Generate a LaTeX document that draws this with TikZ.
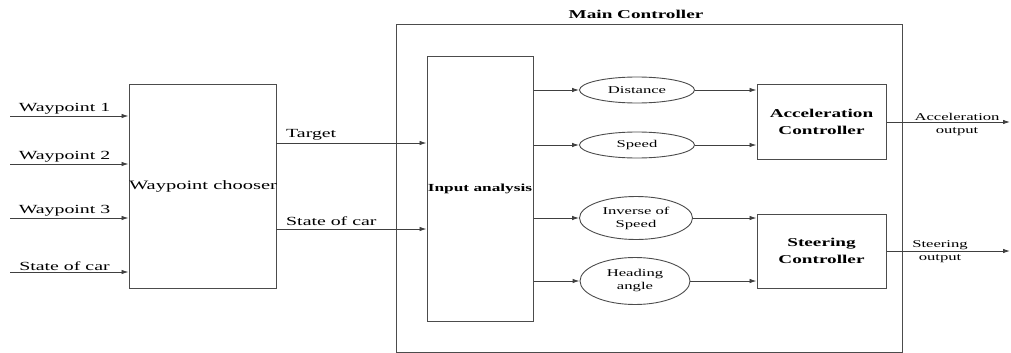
\documentclass[tikz,border=0pt]{standalone}
\usepackage{fontspec}
\setmainfont{Liberation Serif}[FakeStretch=1.6]
\usetikzlibrary{arrows.meta,shapes.geometric}
\newcommand\mainsz{\fontsize{12.4}{17}\selectfont}
\newcommand\smallsz{\fontsize{10.4}{13}\selectfont}
\begin{document}
\begin{tikzpicture}[x=1pt,y=-1pt,
  line/.style={draw=black!75,line width=0.9pt},
  arr/.style={line,-{Latex[length=7pt,width=4.5pt]}},
  box/.style={rectangle,draw=black!70,line width=1pt,inner sep=0pt,align=center},
  oval/.style={ellipse,draw=black!70,line width=0.9pt,inner sep=0pt,align=center,font=\smallsz},
  lbl/.style={font=\mainsz,inner sep=1pt},
  outlbl/.style={font=\smallsz,align=center,inner sep=0pt}]
\useasboundingbox (0,0) rectangle (1011,353);

% enclosing controller frame and its title
\node[box,minimum width=506pt,minimum height=327pt] (main) at (649,188.5) {};
\node[font=\fontsize{12}{14}\selectfont\bfseries] (title) at (636,14) {Main Controller};

% blocks
\node[box,minimum width=146pt,minimum height=204pt,font=\fontsize{12.8}{17}\selectfont] (chooser) at (203,186) {Waypoint chooser};
\node[box,minimum width=106pt,minimum height=264pt,font=\fontsize{10.8}{13}\selectfont\bfseries] (ia) at (480,189) {Input analysis};
\node[box,minimum width=129pt,minimum height=75pt,font=\fontsize{12}{17}\selectfont\bfseries] (acc) at (821.5,121.5) {Acceleration\\Controller};
\node[box,minimum width=129pt,minimum height=74pt,font=\fontsize{12}{17}\selectfont\bfseries] (steer) at (821.5,251) {Steering\\Controller};

% intermediate quantities
\node[oval,minimum width=115pt,minimum height=26pt] (dist) at (637,90) {Distance};
\node[oval,minimum width=115pt,minimum height=26pt] (speed) at (637,145) {Speed};
\node[oval,minimum width=113pt,minimum height=43pt] (inv) at (636,218) {Inverse of\\Speed};
\node[oval,minimum width=110pt,minimum height=47pt] (head) at (635,281) {Heading\\angle};

% external inputs
\coordinate (w1) at (10,116);
\coordinate (w2) at (10,164);
\coordinate (w3) at (10,218);
\coordinate (w4) at (10,272);
\draw[arr] (w1) -- node[lbl,above,pos=0.46] {Waypoint 1} (w1 -| chooser.west);
\draw[arr] (w2) -- node[lbl,above,pos=0.46] {Waypoint 2} (w2 -| chooser.west);
\draw[arr] (w3) -- node[lbl,above,pos=0.46] {Waypoint 3} (w3 -| chooser.west);
\draw[arr] (w4) -- node[lbl,above,pos=0.46] {State of car} (w4 -| chooser.west);

% chooser to input analysis
\coordinate (tg) at (276,143);
\coordinate (sc) at (276,229);
\draw[arr] (tg) -- (tg -| ia.west);
\draw[arr] (sc) -- (sc -| ia.west);
\node[lbl,anchor=south west] (tglbl) at (285,141) {Target};
\node[lbl,anchor=south west] (sclbl) at (285,227) {State of car};

% input analysis to quantities
\draw[arr] (ia.east |- dist.west) -- (dist.west);
\draw[arr] (ia.east |- speed.west) -- (speed.west);
\draw[arr] (ia.east |- inv.west) -- (inv.west);
\draw[arr] (ia.east |- head.west) -- (head.west);

% quantities to controllers
\draw[arr] (dist.east) -- (dist.east -| acc.west);
\draw[arr] (speed.east) -- (speed.east -| acc.west);
\draw[arr] (inv.east) -- (inv.east -| steer.west);
\draw[arr] (head.east) -- (head.east -| steer.west);

% controller outputs
\coordinate (accend) at (1010,122);
\coordinate (stend) at (1010,251);
\draw[arr] (acc.east |- accend) -- (accend);
\draw[arr] (steer.east |- stend) -- (stend);
\node[outlbl] (acclbl) at (957,124) {Acceleration\\output};
\node[outlbl] (stlbl) at (940,252) {Steering\\output};
\end{tikzpicture}
\end{document}
